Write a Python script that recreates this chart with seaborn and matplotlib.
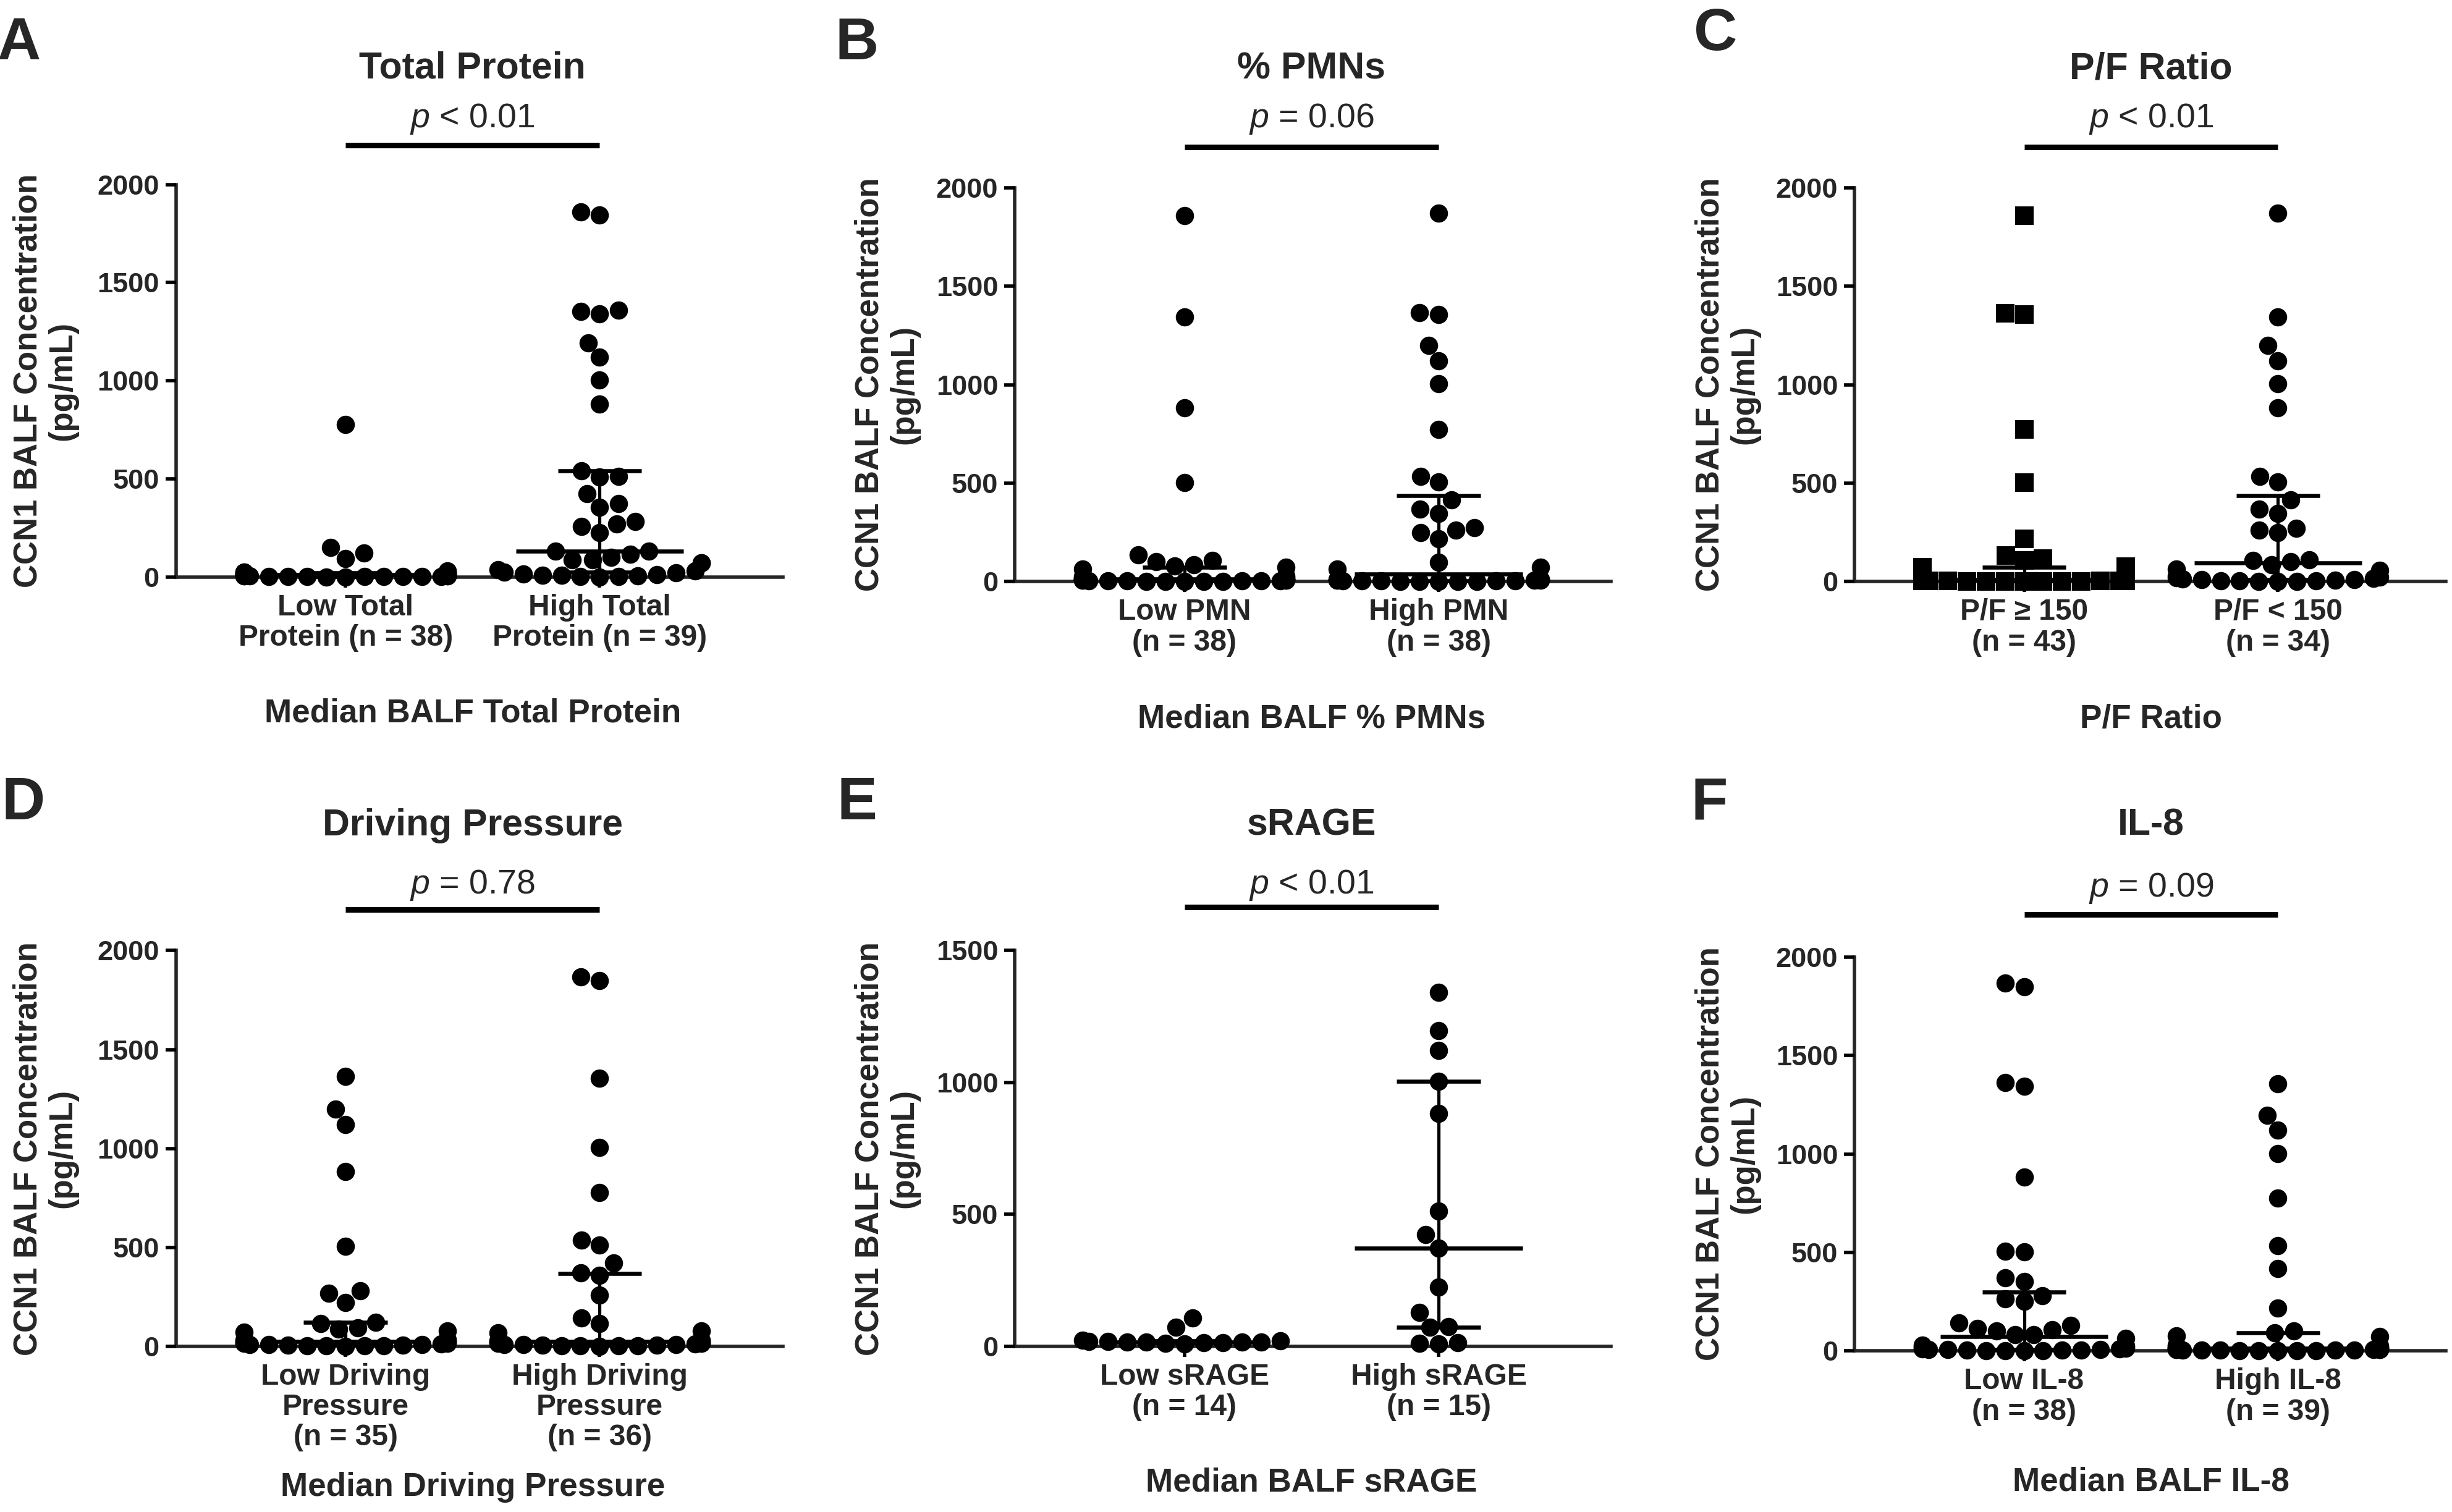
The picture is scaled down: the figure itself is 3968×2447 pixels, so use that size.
import numpy as np
import pandas as pd
import seaborn as sns
import matplotlib.pyplot as plt
import matplotlib.transforms as mtransforms

sns.set_theme(style="ticks")
plt.rcParams['font.family'] = ['Liberation Sans', 'DejaVu Sans']
plt.rcParams['mathtext.fontset'] = 'custom'
plt.rcParams['mathtext.rm'] = 'Liberation Sans'
plt.rcParams['mathtext.it'] = 'Liberation Sans:italic'

# --- данные (pg/mL) ---
# A: Total Protein
tp_low = [777, 151, 122, 94, 31, 28, 26, 25, 22, 20, 19, 18, 17, 15, 14, 13, 12, 12, 11,
          10, 9, 8, 8, 7, 6, 6, 5, 5, 4, 4, 3, 3, 2, 2, 1, 1, 0, 0]
tp_high = [1860, 1845, 1360, 1353, 1341, 1194, 1120, 1003, 882, 540, 511, 508, 425, 374,
           355, 283, 270, 256, 226, 132, 130, 115, 100, 86, 86, 72, 72,
           38, 30, 25, 20, 16, 12, 10, 8, 5, 3, 2, 0]
# B: % PMNs
pmn_low = [1857, 1344, 881, 503, 137, 108, 101, 87, 80, 72, 65,
           30, 26, 22, 20, 18, 16, 15, 13, 12, 11, 10, 9, 8, 7, 7, 6, 5, 5, 4, 4, 3, 3,
           2, 2, 1, 1, 0]
pmn_high = [1871, 1366, 1355, 1199, 1120, 1004, 773, 535, 506, 415, 368, 347, 275, 260,
            249, 217, 98, 72, 65,
            12, 11, 10, 9, 9, 8, 7, 6, 6, 5, 4, 4, 3, 3, 2, 1, 1, 0, 0]
# C: P/F ratio
pf_high_grp = [1857, 1361, 1355, 773, 503, 217, 133, 118, 108, 75, 72,
               28, 25, 22, 20, 19, 17, 16, 15, 14, 13, 12, 11, 10, 9, 8, 8, 7, 6, 6, 5,
               5, 4, 4, 3, 3, 2, 2, 1, 1, 0, 0, 0]
pf_low_grp = [1871, 1344, 1199, 1120, 1004, 881, 535, 506, 415, 368, 347, 272, 260, 249,
              111, 108, 101, 87, 65, 58,
              30, 24, 20, 16, 13, 11, 9, 7, 5, 4, 3, 2, 1, 0]
# D: Driving Pressure
dp_low = [1363, 1199, 1121, 884, 505, 282, 268, 222, 122, 115, 93, 86, 79, 72,
          34, 30, 27, 24, 22, 21, 20, 18, 16, 14, 12, 10, 9, 8, 6, 5, 4, 3, 2, 1, 0]
dp_high = [1866, 1849, 1356, 1005, 778, 537, 511, 422, 372, 358, 258, 143, 115, 76, 67,
           32, 29, 26, 23, 21, 20, 19, 18, 16, 14, 12, 10, 9, 8, 6, 5, 4, 3, 2, 1, 0]
# E: sRAGE
srage_low = [107, 72, 22, 20, 19, 18, 17, 16, 16, 15, 14, 13, 12, 10]
srage_high = [1342, 1197, 1122, 1004, 883, 512, 424, 373, 225, 129, 75, 72, 14, 12, 10]
# F: IL-8
il8_low = [1868, 1849, 1362, 1344, 881, 507, 503, 371, 352, 280, 266, 251, 141, 129, 115,
           108, 101, 82, 82, 65,
           30, 26, 22, 19, 16, 14, 12, 10, 9, 8, 6, 5, 4, 3, 2, 1, 1, 0]
il8_high = [1355, 1197, 1121, 1002, 776, 535, 417, 218, 101, 91, 75, 72,
            28, 25, 22, 20, 18, 16, 15, 14, 13, 12, 11, 10, 9, 8, 7, 6, 6, 5, 4, 4, 3,
            3, 2, 2, 1, 1, 0]

panels = [
    dict(letter='A', title='Total Protein', p='$p$ < 0.01',
         cats=['Low Total\nProtein (n = 38)', 'High Total\nProtein (n = 39)'],
         xlabel='Median BALF Total Protein', data=[tp_low, tp_high], markers=['o', 'o'],
         ymax=2000, pos=[0.0718, 0.6184, 0.2474, 0.2596], xlim=(-0.667, 1.72),
         letter_xy=(12, 28), ys=(1.0996, 1.167, 1.295), xl_y=-0.347),
    dict(letter='B', title='% PMNs', p='$p$ = 0.06',
         cats=['Low PMN\n(n = 38)', 'High PMN\n(n = 38)'],
         xlabel='Median BALF % PMNs', data=[pmn_low, pmn_high], markers=['o', 'o'],
         ymax=2000, pos=[0.4139, 0.6153, 0.2430, 0.2606], xlim=(-0.667, 1.677),
         letter_xy=(548, 28), ys=(1.103, 1.175, 1.30), xl_y=-0.349),
    dict(letter='C', title='P/F Ratio', p='$p$ < 0.01',
         cats=['P/F \u2265 150\n(n = 43)', 'P/F < 150\n(n = 34)'],
         xlabel='P/F Ratio', data=[pf_high_grp, pf_low_grp], markers=['s', 'o'],
         ymax=2000, pos=[0.7564, 0.6153, 0.2410, 0.2606], xlim=(-0.667, 1.66),
         letter_xy=(1097, 22), ys=(1.103, 1.175, 1.30), xl_y=-0.349),
    dict(letter='D', title='Driving Pressure', p='$p$ = 0.78',
         cats=['Low Driving\nPressure\n(n = 35)', 'High Driving\nPressure\n(n = 36)'],
         xlabel='Median Driving Pressure', data=[dp_low, dp_high], markers=['o', 'o'],
         ymax=2000, pos=[0.0718, 0.1096, 0.2474, 0.2617], xlim=(-0.667, 1.72),
         letter_xy=(15, 514), ys=(1.103, 1.166, 1.316), xl_y=-0.356),
    dict(letter='E', title='sRAGE', p='$p$ < 0.01',
         cats=['Low sRAGE\n(n = 14)', 'High sRAGE\n(n = 15)'],
         xlabel='Median BALF sRAGE', data=[srage_low, srage_high], markers=['o', 'o'],
         ymax=1500, pos=[0.4139, 0.1096, 0.2430, 0.2617], xlim=(-0.667, 1.677),
         letter_xy=(548, 514), ys=(1.11, 1.166, 1.316), xl_y=-0.344),
    dict(letter='F', title='IL-8', p='$p$ = 0.09',
         cats=['Low IL-8\n(n = 38)', 'High IL-8\n(n = 39)'],
         xlabel='Median BALF IL-8', data=[il8_low, il8_high], markers=['o', 'o'],
         ymax=2000, pos=[0.7564, 0.1065, 0.2410, 0.2606], xlim=(-0.667, 1.66),
         letter_xy=(1093, 514), ys=(1.107, 1.175, 1.333), xl_y=-0.333),
]

fig = plt.figure(figsize=(3968 / 250, 2447 / 250), dpi=250)

for pn in panels:
    ax = fig.add_axes(pn['pos'])
    cats = pn['cats']

    # точки (по группам, чтобы задать маркер)
    for cat, vals, mk in zip(cats, pn['data'], pn['markers']):
        df = pd.DataFrame({'group': [cat] * len(vals), 'value': vals})
        sns.swarmplot(data=df, x='group', y='value', order=cats, color='black',
                      marker=mk, size=8.5, linewidth=0, warn_thresh=1, ax=ax)
    for coll in ax.collections:
        coll.set_clip_on(False)

    # медиана и межквартильный размах
    for i, vals in enumerate(pn['data']):
        q1, med, q3 = np.percentile(vals, [25, 50, 75], method='weibull')
        ax.plot([i - 0.33, i + 0.33], [med, med], color='black', lw=1.9,
                solid_capstyle='butt', zorder=5, clip_on=False)
        for q in (q1, q3):
            ax.plot([i - 0.165, i + 0.165], [q, q], color='black', lw=1.9,
                    solid_capstyle='butt', zorder=5, clip_on=False)
        ax.plot([i, i], [q1, q3], color='black', lw=1.5, zorder=5, clip_on=False)

    ax.set_xlim(*pn['xlim'])
    ax.set_ylim(0, pn['ymax'])
    ax.set_yticks(range(0, pn['ymax'] + 1, 500))
    ax.set_xticks([0, 1])
    ax.set_xticklabels(cats, fontsize=13.8, fontweight='bold', linespacing=1.12)
    for lab in ax.get_yticklabels():
        lab.set_fontsize(13)
        lab.set_fontweight('bold')
    ax.set_xlabel('')
    ax.set_ylabel('')
    sns.despine(ax=ax)
    for s in ('left', 'bottom'):
        ax.spines[s].set_linewidth(1.6)
        ax.spines[s].set_zorder(0)
    ax.tick_params(axis='both', length=4.8, width=1.6, color='black', pad=3)

    # заголовок, p-значение и черта
    tr = mtransforms.blended_transform_factory(ax.transData, ax.transAxes)
    y_bar, y_p, y_t = pn['ys']
    ax.plot([0, 1], [y_bar, y_bar], color='black', lw=2.6, transform=tr,
            solid_capstyle='butt', clip_on=False)
    ax.text(0.5, y_p, pn['p'], transform=tr, ha='center', va='center', fontsize=16)
    ax.text(0.5, y_t, pn['title'], transform=tr, ha='center', va='center',
            fontsize=17.5, fontweight='bold')
    ax.text(0.5, pn['xl_y'], pn['xlabel'], transform=tr, ha='center', va='center',
            fontsize=15.3, fontweight='bold')
    ax.text(-0.215, 0.5, 'CCN1 BALF Concentration\n(pg/mL)', transform=ax.transAxes,
            rotation=90, ha='center', va='center', fontsize=15.2, fontweight='bold',
            linespacing=1.15)

    lx, ly = pn['letter_xy']
    fig.text(lx / 1568, 1 - ly / 967, pn['letter'], ha='center', va='center',
             fontsize=28, fontweight='bold')

fig.savefig('out.png', dpi=250, facecolor='white')
